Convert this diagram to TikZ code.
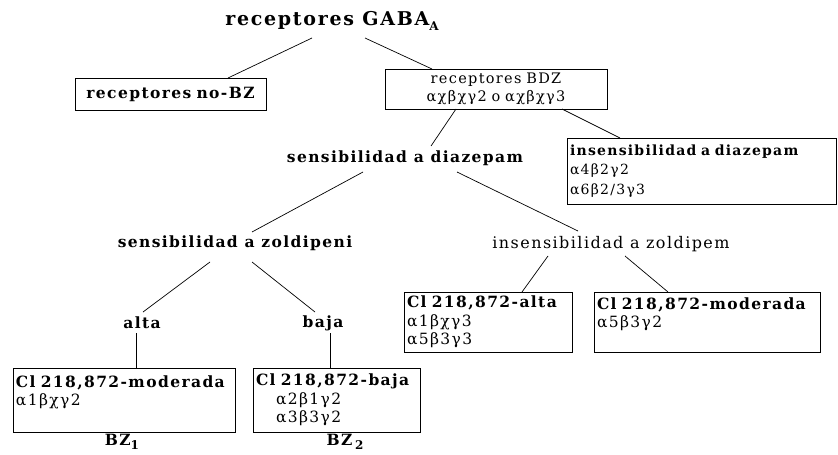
\documentclass[tikz,border=0pt]{standalone}
\usepackage{fontspec}
\setmainfont{DejaVu Serif}[LetterSpace=9]
\usetikzlibrary{calc}
\newcommand\lowsub[1]{\raisebox{-0.45ex}{\fontsize{12}{12}\selectfont #1}}
\begin{document}
\begin{tikzpicture}[x=1pt,y=-1pt,
  lbl/.style={inner sep=0pt, font=\fontsize{15.5}{18}\selectfont\bfseries},
  plain/.style={inner sep=0pt, font=\fontsize{16}{18}\selectfont},
  bx/.style={draw, line width=0.8pt, inner xsep=3pt, inner ysep=0pt, align=left, font=\fontsize{15.5}{18.5}\selectfont},
  conn/.style={line width=0.7pt}]
\useasboundingbox (0,0) rectangle (838,455);
\node[lbl] (title) at (332,21) {\fontsize{19}{22}\selectfont receptores GABA\lowsub{A}};
\node[bx, minimum width=191pt, minimum height=32pt, align=center, text width=185pt] (nobz) at (170.5,94) {\bfseries receptores no-BZ};
\node[bx, minimum width=222pt, minimum height=40pt, align=center, text width=216pt, font=\fontsize{14.5}{18}\selectfont] (bdz) at (496,89) {receptores BDZ\\αχβχγ2 o αχβχγ3};
\node[bx, minimum width=269pt, minimum height=66pt, text width=263pt, font=\fontsize{14}{19.5}\selectfont] (insdz) at (701.5,171) {\textbf{insensibilidad a diazepam}\\α4β2γ2\\α6β2/3γ3};
\node[lbl] (sensdz) at (405,158) {sensibilidad a diazepam};
\node[lbl] (senszd) at (235,243) {sensibilidad a zoldipeni};
\node[plain] (inszd) at (611,244) {insensibilidad a zoldipem};
\node[lbl] (alta) at (142,323) {alta};
\node[lbl] (baja) at (323,323) {baja};
\node[bx, minimum width=222pt, minimum height=64pt, text width=216pt] (b1) at (124,400) {\textbf{Cl 218,872-moderada}\\α1βχγ2\\\mbox{}};
\node[bx, minimum width=167pt, minimum height=64pt, text width=161pt] (b2) at (336.5,400) {\textbf{Cl 218,872-baja}\\\hspace*{20pt}α2β1γ2\\\hspace*{20pt}α3β3γ2};
\node[bx, minimum width=168pt, minimum height=60pt, text width=162pt] (b3) at (488,322) {\textbf{Cl 218,872-alta}\\α1βχγ3\\α5β3γ3};
\node[bx, minimum width=226pt, minimum height=60pt, text width=220pt] (b4) at (707,322) {\textbf{Cl 218,872-moderada}\\α5β3γ2\\\mbox{}};
\node[lbl] (bz1) at (122,442) {BZ\lowsub{1}};
\node[lbl] (bz2) at (345,442) {BZ\,\lowsub{2}};
\draw[conn] ($(title.center)+(-20,17)$) -- ($(nobz.center)+(57.5,-16)$);
\draw[conn] ($(title.center)+(33,17)$) -- ($(bdz.center)+(-64,-20)$);
\draw[conn] ($(bdz.center)+(-40,20)$) -- ($(sensdz.center)+(26,-12)$);
\draw[conn] ($(bdz.center)+(66,20)$) -- ($(insdz.center)+(-81.5,-33)$);
\draw[conn] ($(sensdz.center)+(-42,14)$) -- ($(senszd.center)+(17,-11)$);
\draw[conn] ($(sensdz.center)+(52,14)$) -- ($(inszd.center)+(-33,-13)$);
\draw[conn] ($(senszd.center)+(-25,19)$) -- ($(alta.center)+(1,-11)$);
\draw[conn] ($(senszd.center)+(17,19)$) -- ($(baja.center)+(-8,-11)$);
\draw[conn] ($(alta.center)+(-6,10)$) -- ($(b1.center)+(12,-32)$);
\draw[conn] ($(baja.center)+(7,10)$) -- ($(b2.center)+(-6.5,-32)$);
\draw[conn] ($(inszd.center)+(-63,12)$) -- ($(b3.center)+(34,-30)$);
\draw[conn] ($(inszd.center)+(14,12)$) -- ($(b4.center)+(-39,-30)$);
\end{tikzpicture}
\end{document}
